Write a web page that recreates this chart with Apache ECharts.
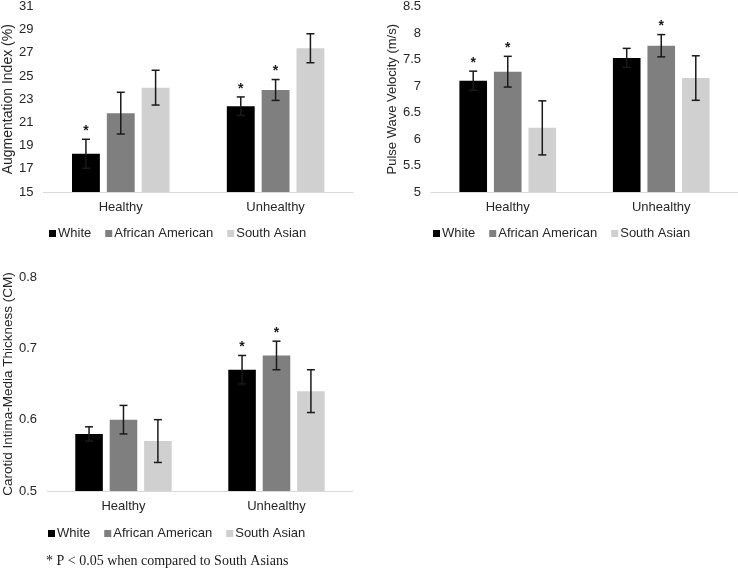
<!DOCTYPE html>
<html>
<head>
<meta charset="utf-8">
<script src="https://cdn.jsdelivr.net/npm/echarts@6/dist/echarts.min.js"></script>
<style>
html,body{margin:0;padding:0;background:#fff;}
#chart{width:738px;height:571px;}
</style>
</head>
<body>
<div id="chart"></div>
<script>
const categories = ['Healthy', 'Unhealthy'];
const groups = ['White', 'African American', 'South Asian'];

// Augmentation Index (%)
const aixWhite = [18.3, 22.4];
const aixAA = [21.8, 23.8];
const aixSA = [24.0, 27.4];
const aixWhiteErr = [1.25, 0.8];
const aixAAErr = [1.8, 0.9];
const aixSAErr = [1.5, 1.25];
const aixWhiteStar = [1, 1];
const aixAAStar = [0, 1];
const aixSAStar = [0, 0];

// Pulse Wave Velocity (m/s)
const pwvWhite = [7.10, 7.53];
const pwvAA = [7.27, 7.76];
const pwvSA = [6.21, 7.15];
const pwvWhiteErr = [0.18, 0.18];
const pwvAAErr = [0.29, 0.21];
const pwvSAErr = [0.51, 0.42];
const pwvWhiteStar = [1, 0];
const pwvAAStar = [1, 1];
const pwvSAStar = [0, 0];

// Carotid Intima-Media Thickness (CM)
const cimtWhite = [0.58, 0.67];
const cimtAA = [0.60, 0.69];
const cimtSA = [0.57, 0.64];
const cimtWhiteErr = [0.01, 0.02];
const cimtAAErr = [0.02, 0.02];
const cimtSAErr = [0.03, 0.03];
const cimtWhiteStar = [0, 1];
const cimtAAStar = [0, 1];
const cimtSAStar = [0, 0];

const colors = ['#000000', '#7f7f7f', '#d0d0d0'];
const BAR_PCT = 0.18, GAP = 0.25;
const FONT = 'Liberation Sans, Arial, sans-serif';
const TXT = '#262626';

const panels = [
  { vals: [aixWhite, aixAA, aixSA], errs: [aixWhiteErr, aixAAErr, aixSAErr], stars: [aixWhiteStar, aixAAStar, aixSAStar],
    name: 'Augmentation Index (%)', min: 15, max: 31, interval: 2, nameSize: 14,
    grid: { left: 40, top: 5, width: 313, height: 187 }, nameGap: 27, legend: { left: 44, top: 222 } },
  { vals: [pwvWhite, pwvAA, pwvSA], errs: [pwvWhiteErr, pwvAAErr, pwvSAErr], stars: [pwvWhiteStar, pwvAAStar, pwvSAStar],
    name: 'Pulse Wave Velocity (m/s)', min: 5, max: 8.5, interval: 0.5, nameSize: 13,
    grid: { left: 431, top: 5, width: 307, height: 187 }, nameGap: 27, legend: { left: 428, top: 222 } },
  { vals: [cimtWhite, cimtAA, cimtSA], errs: [cimtWhiteErr, cimtAAErr, cimtSAErr], stars: [cimtWhiteStar, cimtAAStar, cimtSAStar],
    name: 'Carotid Intima-Media Thickness (CM)', min: 0.5, max: 0.8, interval: 0.1, nameSize: 13.5,
    grid: { left: 45, top: 277, width: 308, height: 214 }, nameGap: 31, legend: { left: 43, top: 522 } }
];

const grid = [], xAxis = [], yAxis = [], series = [], legend = [];
panels.forEach((p, pi) => {
  grid.push(Object.assign({ containLabel: false }, p.grid));
  xAxis.push({
    type: 'category', gridIndex: pi, data: categories,
    axisLine: { lineStyle: { color: '#d9d9d9', width: 1 } },
    axisTick: { show: false },
    axisLabel: { color: TXT, fontFamily: FONT, fontSize: 13, margin: 9 }
  });
  yAxis.push({
    type: 'value', gridIndex: pi, min: p.min, max: p.max, interval: p.interval,
    name: p.name, nameLocation: 'middle', nameGap: p.nameGap, nameRotate: 90,
    nameTextStyle: { color: TXT, fontFamily: FONT, fontSize: p.nameSize },
    axisLine: { show: false }, axisTick: { show: false }, splitLine: { show: false },
    axisLabel: { color: TXT, fontFamily: FONT, fontSize: 13, margin: 10 }
  });
  legend.push({
    left: p.legend.left, top: p.legend.top, data: groups, icon: 'rect',
    itemWidth: 7, itemHeight: 7, itemGap: 14, selectedMode: false,
    textStyle: { color: TXT, fontFamily: FONT, fontSize: 13, padding: [0, 0, 0, -3] }
  });
  groups.forEach((g, gi) => {
    series.push({
      type: 'bar', name: g, xAxisIndex: pi, yAxisIndex: pi,
      data: p.vals[gi], barWidth: (BAR_PCT * 100) + '%', barGap: (GAP * 100) + '%',
      itemStyle: { color: colors[gi] }, emphasis: { disabled: true }, animation: false
    });
  });
  const rows = [];
  groups.forEach((g, gi) => {
    categories.forEach((c, ci) => {
      rows.push([ci, p.vals[gi][ci], p.errs[gi][ci], p.stars[gi][ci], gi]);
    });
  });
  series.push({
    type: 'custom', name: 'err' + pi, xAxisIndex: pi, yAxisIndex: pi, z: 10, animation: false,
    data: rows,
    encode: { x: 0, y: 1 },
    renderItem: function (params, api) {
      const ci = api.value(0), v = api.value(1), e = api.value(2), st = api.value(3), gi = api.value(4);
      const band = api.size([1, 0])[0];
      const bw = band * BAR_PCT;
      const off = (gi - 1) * bw * (1 + GAP);
      const c = api.coord([ci, v]);
      const x = c[0] + off;
      const top = api.coord([ci, v + e])[1];
      const bot = api.coord([ci, v - e])[1];
      const cap = 4;
      const st2 = { stroke: '#1a1a1a', lineWidth: 1.5 };
      const children = [
        { type: 'line', shape: { x1: x, y1: top, x2: x, y2: bot }, style: st2 },
        { type: 'line', shape: { x1: x - cap, y1: top, x2: x + cap, y2: top }, style: st2 },
        { type: 'line', shape: { x1: x - cap, y1: bot, x2: x + cap, y2: bot }, style: st2 }
      ];
      if (st) {
        children.push({ type: 'text', style: { text: '*', x: x, y: top - 1, align: 'center', verticalAlign: 'bottom',
          fill: '#1a1a1a', font: 'bold 14px ' + FONT } });
      }
      return { type: 'group', children: children };
    }
  });
});

const chart = echarts.init(document.getElementById('chart'), null, { renderer: 'canvas' });
chart.setOption({
  backgroundColor: '#ffffff',
  animation: false,
  grid, xAxis, yAxis, legend, series,
  graphic: [{
    type: 'text', left: 46, top: 554,
    style: { text: '* P < 0.05 when compared to South Asians', fill: '#1a1a1a',
      font: '14px "Liberation Serif", "Times New Roman", serif' }
  }]
});
</script>
</body>
</html>
